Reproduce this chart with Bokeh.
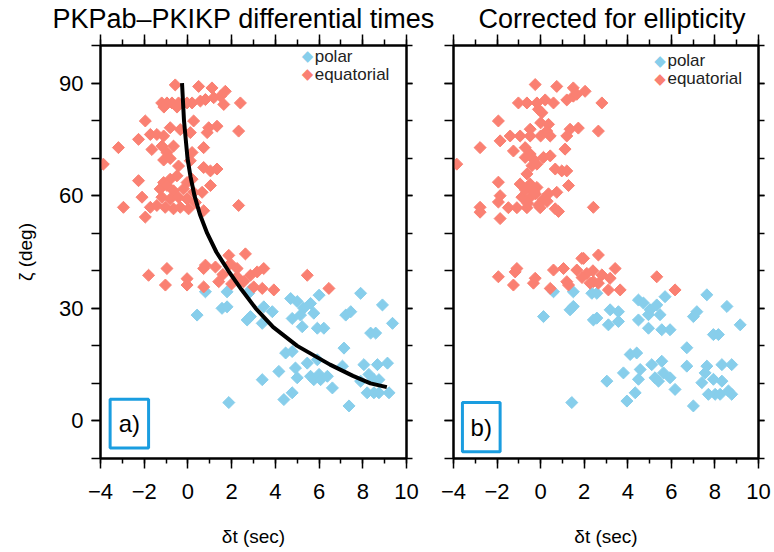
from bokeh.plotting import figure
from bokeh.layouts import row
from bokeh.models import (LinearAxis, FixedTicker, BoxAnnotation, Label, Title)
from bokeh.embed import file_html
from bokeh.resources import INLINE
import math

# ---------------- data ----------------
x_ticks = [-4, -2, 0, 2, 4, 6, 8, 10]
x_minor = list(range(-4, 11))
y_ticks = [0, 30, 60, 90]
y_minor = list(range(-10, 101, 10))

curve_zeta = [90, 80, 70, 65, 60, 55, 50, 45, 40, 35, 30, 25, 20, 15, 12, 10, 9]
curve_dt = [-0.27, -0.18, -0.02, 0.12, 0.3, 0.55, 0.88, 1.3, 1.85, 2.45, 3.1, 3.9, 5.0, 6.5, 7.55, 8.35, 9.1]

polar_a = [(0.8,34.4),(1.79,34.4),(0.42,28.2),(1.56,30.0),(1.79,30.4),(2.86,34.9),(2.78,34.0),(2.71,26.9),(2.86,27.8),(3.4,26.0),(3.47,30.4),(3.86,29.1),(4.7,32.6),(5.0,31.8),(4.77,27.3),(5.3,30.0),(5.15,28.2),(5.61,31.3),(5.23,25.1),(5.76,28.7),(6.0,33.5),(5.92,24.7),(6.22,24.7),(7.22,28.2),(7.45,29.1),(7.9,34.0),(8.9,30.9),(8.36,23.4),(8.59,23.4),(9.36,26.0),(4.47,18.1),(4.77,18.5),(7.14,19.4),(4.16,13.2),(4.92,14.1),(5.0,11.5),(5.46,15.4),(5.92,16.3),(5.61,11.9),(5.76,11.0),(6.0,12.4),(6.07,11.0),(6.38,11.9),(7.07,14.6),(7.9,10.6),(8.05,15.0),(8.28,12.4),(8.67,15.0),(9.13,15.4),(8.51,11.0),(8.74,11.0),(8.2,7.5),(8.51,7.5),(8.74,7.5),(9.2,7.5),(3.4,11.0),(4.39,5.7),(4.77,7.5),(6.61,8.8),(7.37,4.0),(1.87,4.9)]

equatorial_a = [(-0.58,89.5),(0.49,89.1),(1.1,88.7),(1.71,87.8),
 (-1.2,84.7),(-0.96,84.7),(-0.73,84.7),(-0.43,84.7),(-0.04,84.7),(0.19,84.7),(0.57,85.2),(0.8,85.6),(1.18,86.1),(1.49,86.5),
 (1.64,84.3),(2.4,84.7),(-1.1,83.6),(-0.5,83.6),
 (-1.95,79.9),(-0.81,78.1),(0.26,79.9),(0.95,78.1),(1.33,78.5),(2.32,77.2),(-0.35,77.6),
 (-1.72,76.3),(-1.42,76.3),(-1.11,75.9),(-2.26,75.0),(0.11,76.8),(0.88,76.8),
 (-3.18,72.8),(-1.65,72.3),(-1.19,73.2),(-0.96,71.5),(-0.66,73.2),(0.19,71.5),(0.72,72.8),
 (-1.11,69.5),(-0.81,69.9),(0.11,69.3),(-3.87,68.4),(-0.43,67.9),(0.72,67.5),(1.03,66.6),(1.33,67.1),
 (-2.26,64.0),(-1.11,63.5),(-0.81,64.4),(-0.5,65.3),(-0.04,63.5),(0.19,64.4),(1.03,62.7),
 (-2.1,59.6),(-2.95,56.9),(-1.95,54.3),(2.32,57.4),
 (-1.27,61.8),(-0.96,62.7),(-0.66,61.3),(-0.2,61.8),(0.26,60.9),(0.65,60.9),(-1.19,59.6),(-0.81,59.1),(-0.43,59.6),(-0.04,59.1),
 (-1.72,56.9),(-1.42,57.4),(-1.04,56.9),(-0.66,56.5),(-0.35,56.9),(0.03,56.5),(0.72,56.0),(0.34,58.2),
 (1.87,44.1),(2.63,44.5),(-0.96,40.6),(0.8,41.5),(1.26,41.0),(1.94,41.9),(2.25,40.6),(2.86,38.8),(3.17,39.7),(3.47,40.6),(5.46,38.8),(-1.8,38.8),(6.45,35.3),
 (-1.03,36.2),(-0.04,37.9),(-0.04,36.2),(0.72,40.6),(0.72,35.7),(1.41,37.1),(2.25,38.4),(2.55,37.1),(3.01,35.7),(3.4,35.3),(3.93,34.9),(1.6,39.0),(2.0,36.5)]

polar_b = [(0.59,34.4),(1.5,34.4),(0.13,27.8),(1.35,29.6),(1.5,30.5),(2.35,34.0),(2.58,34.0),(2.42,26.9),(2.58,27.4),(3.11,25.6),(3.19,29.6),(3.57,29.1),(3.57,26.5),(4.49,32.2),(4.72,31.4),(4.49,26.9),(4.95,28.3),(5.03,29.6),(4.95,24.7),(5.33,30.9),(5.48,28.3),(5.71,33.1),(5.56,24.3),(5.94,24.3),(7.01,27.8),(7.17,29.1),(7.63,33.6),(8.55,30.5),(7.93,23.0),(8.16,23.0),(9.16,25.6),(4.11,17.7),(4.41,18.1),(6.71,19.5),(3.8,12.8),(4.57,13.7),(4.49,11.1),(5.1,15.0),(5.56,15.9),(5.25,11.5),(5.41,10.6),(5.64,12.8),(5.94,11.5),(6.71,14.6),(7.4,10.2),(7.63,14.6),(7.55,12.8),(8.32,15.0),(8.77,15.0),(7.93,11.1),(8.32,10.6),(7.7,7.1),(8.01,7.1),(8.24,7.1),(8.62,8.0),(8.77,7.1),(3.04,10.6),(3.96,5.3),(4.34,7.5),(6.17,8.4),(7.01,4.0),(1.43,4.9)]

equatorial_b = [(-0.25,89.6),(0.74,89.1),(1.5,88.7),(2.04,87.8),
 (-1.02,84.7),(-0.63,84.7),(-0.17,84.7),(0.21,85.5),(0.59,84.7),(1.2,85.5),(1.5,86.5),(1.66,87.0),(2.81,84.7),
 (-0.1,83.0),(0.06,82.1),(-1.94,79.9),(0.0,79.4),(0.36,79.0),(-0.48,77.7),(0.28,77.2),(1.35,77.7),(1.73,78.0),(2.65,77.2),
 (-1.4,75.9),(-0.94,75.9),(-0.48,75.9),(0.0,75.9),(0.44,75.9),(1.2,75.9),
 (-2.78,72.8),(-1.86,74.6),(-1.25,71.9),(-0.71,72.8),(-0.48,71.1),(1.12,72.4),
 (-0.71,70.2),(-0.33,69.7),(0.13,70.2),(0.44,70.6),(-0.4,68.0),(-0.17,68.4),(-3.85,68.4),
 (0.67,67.1),(0.97,66.6),(1.2,66.6),(-0.63,65.8),(-1.94,63.6),(-0.94,63.1),(-0.48,63.1),(-0.17,62.2),(1.28,62.7),
 (0.36,60.5),(0.74,60.9),(-1.86,60.0),(-1.94,58.3),(-0.86,59.6),(-0.48,59.6),(-0.25,60.5),
 (-2.78,56.9),(-2.78,55.6),(-1.48,56.8),(-1.09,56.8),(-0.63,56.8),(-0.02,56.8),(0.67,56.5),(0.82,55.8),(2.42,56.9),(-1.86,53.9),
 (-0.7,61.5),(-0.3,61.0),(0.1,59.0),(-0.6,58.0),(-0.1,57.5),(0.3,58.5),
 (1.89,43.3),(2.65,44.2),(-1.09,40.6),(-1.17,39.7),(0.59,40.2),(1.05,40.6),(1.66,40.2),(3.42,40.6),(-1.94,38.4),(5.33,38.4),(6.17,34.9),
 (-1.25,36.2),(-0.25,38.0),(-0.33,36.7),(0.44,35.3),(1.2,37.1),(1.28,36.2),(1.97,43.3),(2.12,39.3),(2.42,37.1),(2.81,38.9),(3.19,38.0),(2.27,36.7),(2.65,36.7),(3.11,34.9),(3.65,34.9),(1.9,38.2),(2.4,40.0)]

titles = ["PKPab\u2013PKIKP differential times", "Corrected for ellipticity"]
panel_labels = ["a)", "b)"]
series_names = ["polar", "equatorial"]
x_label = "\u03b4t (sec)"
y_label = "\u03b6 (deg)"

POLAR = "#87CEEB"
EQUAT = "#FA8072"
BOXC = "#1A9DE0"
FONT = "Liberation Sans"


def style_axis(ax, labels=True, major_out=10, minor_out=5, ticks=None):
    ax.axis_line_color = "black"
    ax.axis_line_width = 2
    ax.major_tick_line_color = "black"
    ax.major_tick_line_width = 1.5
    ax.minor_tick_line_color = "black"
    ax.minor_tick_line_width = 1.5
    ax.major_tick_in = 0
    ax.minor_tick_in = 0
    ax.major_tick_out = major_out
    ax.minor_tick_out = minor_out
    ax.major_label_text_font = FONT
    ax.major_label_text_color = "black"
    ax.axis_label_text_font = FONT
    ax.axis_label_text_font_style = "normal"
    ax.axis_label_text_color = "black"
    ax.major_label_text_font_size = "22px"
    if not labels:
        ax.major_label_overrides = {t: "" for t in ticks}
        ax.major_label_text_font_size = "2px"
        ax.major_label_standoff = 0


def make_panel(idx, pol, equ, width, bl, br, box, curve, leg_pos, title_offset):
    p = figure(width=width, height=552, x_range=(-4, 10), y_range=(-10, 100),
               output_backend="svg", toolbar_location=None,
               x_axis_location=None, y_axis_location=None,
               min_border_left=bl, min_border_right=br,
               min_border_top=43, min_border_bottom=94)
    p.grid.visible = False
    p.outline_line_color = "black"
    p.outline_line_width = 2
    p.background_fill_color = "white"
    p.border_fill_color = "white"

    xb = LinearAxis(ticker=FixedTicker(ticks=x_ticks, minor_ticks=x_minor), axis_label=x_label)
    style_axis(xb)
    xb.major_label_overrides = {-4: "\u22124", -2: "\u22122"}
    xb.major_label_standoff = 15
    xb.axis_label_standoff = 24
    xb.axis_label_text_font_size = "19px"
    p.add_layout(xb, "below")

    xa = LinearAxis(ticker=FixedTicker(ticks=x_ticks, minor_ticks=x_minor))
    style_axis(xa, labels=False, ticks=x_ticks, major_out=11, minor_out=6)
    p.add_layout(xa, "above")

    if idx == 0:
        yl = LinearAxis(ticker=FixedTicker(ticks=y_ticks, minor_ticks=y_minor), axis_label=y_label)
        style_axis(yl, major_out=9, minor_out=9)
        yl.major_label_standoff = 8
        yl.axis_label_standoff = 20
        yl.axis_label_text_font_size = "19px"
    else:
        yl = LinearAxis(ticker=FixedTicker(ticks=y_ticks, minor_ticks=y_minor))
        style_axis(yl, labels=False, ticks=y_ticks, major_out=9, minor_out=9)
    p.add_layout(yl, "left")

    yr = LinearAxis(ticker=FixedTicker(ticks=y_ticks, minor_ticks=y_minor))
    style_axis(yr, labels=False, ticks=y_ticks, major_out=6, minor_out=6)
    p.add_layout(yr, "right")

    p.title = Title(text=titles[idx], align="left", text_font=FONT,
                    text_font_size="27px", text_font_style="normal",
                    text_color="black", standoff=2, offset=title_offset)

    p.scatter([d[0] for d in pol], [d[1] for d in pol], marker="square",
              angle=math.pi / 4, size=8.5, fill_color=POLAR, line_color=POLAR, line_width=1)
    p.scatter([d[0] for d in equ], [d[1] for d in equ], marker="square",
              angle=math.pi / 4, size=8.5, fill_color=EQUAT, line_color=EQUAT, line_width=1)
    if curve:
        p.line(curve_dt, curve_zeta, line_color="black", line_width=4)

    # legend: diamond key + label text
    kx, tx, y1, y2 = leg_pos
    for name, col, yy in ((series_names[0], POLAR, y1), (series_names[1], EQUAT, y2)):
        p.add_layout(Label(x=kx, y=yy, text="\u25c6", text_align="center", text_baseline="middle",
                           text_font="DejaVu Sans", text_font_size="15px", text_color=col))
        p.add_layout(Label(x=tx, y=yy, text=name, text_align="left", text_baseline="middle",
                           text_font=FONT, text_font_size="17px", text_color="#222222"))

    p.add_layout(BoxAnnotation(left=box[0], right=box[1], bottom=box[2], top=box[3],
                               fill_alpha=0, line_color=BOXC, line_alpha=1, line_width=3))
    p.add_layout(Label(x=(box[0] + box[1]) / 2, y=(box[2] + box[3]) / 2,
                       text=panel_labels[idx], text_align="center", text_baseline="middle",
                       text_font=FONT, text_font_size="24px", text_color="black"))
    return p


pa = make_panel(0, polar_a, equatorial_a, 440, 100, 34, (-3.56, -1.8, -7.2, 5.8), True,
                (5.47, 5.8, 97.2, 92.4), -48)
pb = make_panel(1, polar_b, equatorial_b, 334, 13, 16, (-3.59, -1.86, -8.2, 4.9), False,
                (5.48, 5.82, 95.9, 91.1), 25)

layout = row(pa, pb)
open("out.html", "w").write(file_html(layout, INLINE))
